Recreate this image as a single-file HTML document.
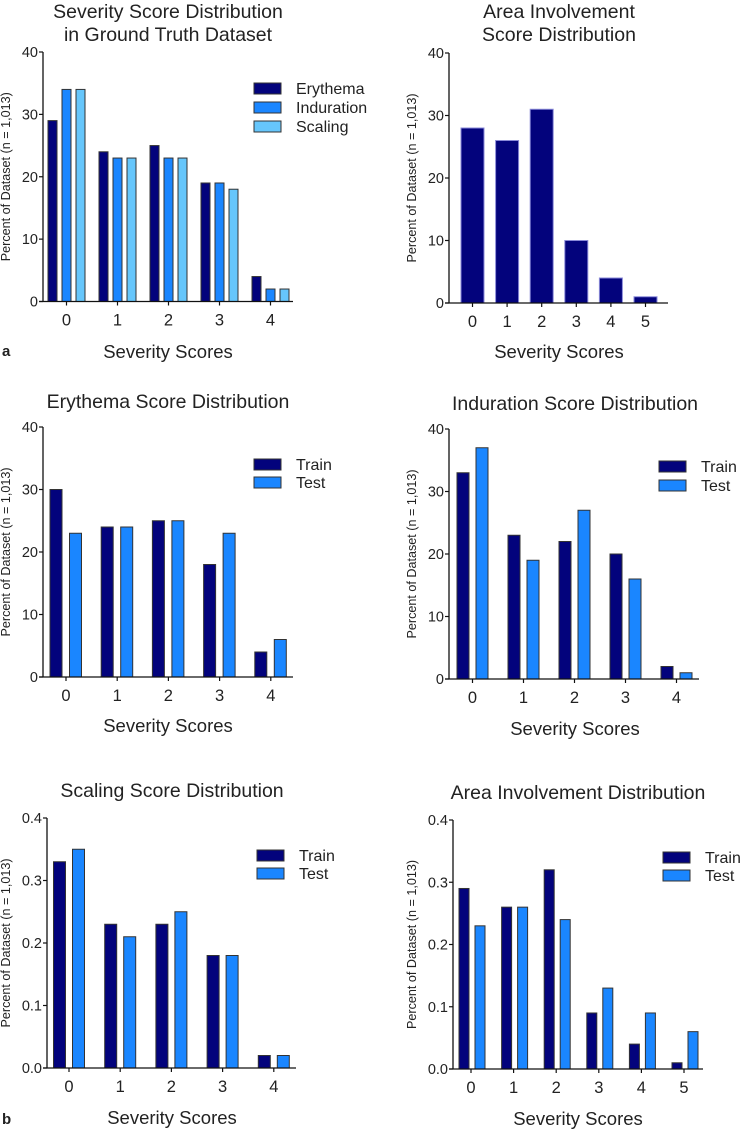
<!DOCTYPE html>
<html><head><meta charset="utf-8"><style>
body{margin:0;background:#fff;}
svg{display:block;font-family:"Liberation Sans",sans-serif;}
text{fill:#222;}
</style></head><body>
<svg id="fig" width="740" height="1130" viewBox="0 0 740 1130"></svg>
<script>
// Panel A: severity in ground truth
const catsA = ["0","1","2","3","4"];
const erythemaA = [29,24,25,19,4];
const indurationA = [34,23,23,19,2];
const scalingA = [34,23,23,18,2];
// Panel B: area involvement
const catsB = ["0","1","2","3","4","5"];
const areaB = [28,26,31,10,4,1];
// Panel C: erythema train/test
const catsC = ["0","1","2","3","4"];
const trainC = [30,24,25,18,4];
const testC = [23,24,25,23,6];
// Panel D: induration
const catsD = ["0","1","2","3","4"];
const trainD = [33,23,22,20,2];
const testD = [37,19,27,16,1];
// Panel E: scaling
const catsE = ["0","1","2","3","4"];
const trainE = [0.33,0.23,0.23,0.18,0.02];
const testE = [0.35,0.21,0.25,0.18,0.02];
// Panel F: area involvement train/test
const catsF = ["0","1","2","3","4","5"];
const trainF = [0.29,0.26,0.32,0.09,0.04,0.01];
const testF = [0.23,0.26,0.24,0.13,0.09,0.06];
const ticksPct = ["0","10","20","30","40"];
const ticksFrac = ["0.0","0.1","0.2","0.3","0.4"];

const NS="http://www.w3.org/2000/svg";
const svg=document.getElementById('fig');
const NAVY="#03037c", MID="#1a86ff", LIGHT="#66c6fb";
function mk(tag,attrs,parent,txt){const e=document.createElementNS(NS,tag);for(const k in attrs)e.setAttribute(k,attrs[k]);if(txt!==undefined)e.textContent=txt;(parent||svg).appendChild(e);return e;}

function panel(o){
  const g=mk('g',{});
  
  
  const y=v=>o.bottom-(v/o.ymax)*(o.bottom-o.top);
  const x=i=>o.x0+i*o.step;
  o.title.forEach((t,k)=>{
    const tt=mk('text',{x:o.tcx,y:o.ty+k*23,'text-anchor':'middle','font-size':'19.5'},g,t);
    
    
  });
  o.series.forEach((s,si)=>{
    s.vals.forEach((v,i)=>{
      const cx=x(i)+s.off;
      const r=mk('rect',{x:cx-o.bw/2,y:y(v),width:o.bw,height:o.bottom-y(v),fill:s.color,stroke:s.stroke||'#333','stroke-width':'1'},g);
      
      
    });
  });
  const ya=mk('line',{x1:o.ax,y1:o.top,x2:o.ax,y2:o.bottom,stroke:'#111','stroke-width':'1.3'},g);
  
  
  const xa=mk('line',{x1:o.ax-4,y1:o.bottom,x2:o.xend,y2:o.bottom,stroke:'#111','stroke-width':'1.3'},g);
  
  
  o.ticks.forEach((t,k)=>{
    const v=o.ymax*k/(o.ticks.length-1);
    mk('line',{x1:o.ax-4,y1:y(v),x2:o.ax,y2:y(v),stroke:'#111','stroke-width':'1.2'},g);
    const tl=mk('text',{x:o.ax-5,y:y(v)+5,'text-anchor':'end','font-size':'14.5'},g,t);
    
    
  });
  o.cats.forEach((c,i)=>{
    mk('line',{x1:x(i),y1:o.bottom,x2:x(i),y2:o.bottom+4,stroke:'#111','stroke-width':'1.2'},g);
    const tl=mk('text',{x:x(i),y:o.bottom+24,'text-anchor':'middle','font-size':'16.5'},g,c);
    
    
  });
  const xt=mk('text',{x:o.tcx,y:o.xty,'text-anchor':'middle','font-size':'18.5'},g,'Severity Scores');
  
  
  const ymid=(o.top+o.bottom)/2;
  const yt=mk('text',{x:o.ylx,y:ymid,'text-anchor':'middle','font-size':'12.6',transform:'rotate(-90 '+o.ylx+' '+ymid+')'},g,'Percent of Dataset (n = 1,013)');
  
  
  if(o.legend){
    o.series.forEach((s,si)=>{
      const ly=o.legend.y+si*o.legend.dy;
      const sw=mk('rect',{x:o.legend.x,y:ly,width:27,height:11,fill:s.color,stroke:'#333','stroke-width':'1'},g);
      
      
      const lt=mk('text',{x:o.legend.x+42,y:ly+11,'font-size':'16'},g,s.label);
      
      
    });
  }
  if(o.letter){
    const l=mk('text',{x:2,y:o.letter,'font-size':'15','font-weight':'bold'},g,o.letterText);
    
    
  }
}

panel({name:'panel-a-ground-truth',title:['Severity Score Distribution','in Ground Truth Dataset'],tcx:168,ty:18,
  ax:43,top:52,bottom:301.5,xend:293,x0:66.5,step:51,ymax:40,ticks:ticksPct,cats:catsA,bw:9,
  series:[{label:'Erythema',vals:erythemaA,color:NAVY,off:-14},{label:'Induration',vals:indurationA,color:MID,off:0},{label:'Scaling',vals:scalingA,color:LIGHT,off:14}],
  xty:358,ylx:10,legend:{x:254,y:83,dy:19},letter:356,letterText:'a'});
panel({name:'panel-b-area-involvement',title:['Area Involvement','Score Distribution'],tcx:559,ty:18,
  ax:449,top:53,bottom:303,xend:668,x0:472.5,step:34.6,ymax:40,ticks:ticksPct,cats:catsB,bw:23,
  series:[{label:'Area',vals:areaB,color:NAVY,off:0,stroke:'#8a8ad8'}],
  xty:358,ylx:416});
panel({name:'panel-c-erythema',title:['Erythema Score Distribution'],tcx:168,ty:408,
  ax:43,top:427,bottom:677,xend:293,x0:66,step:51.2,ymax:40,ticks:ticksPct,cats:catsC,bw:12,
  series:[{label:'Train',vals:trainC,color:NAVY,off:-10},{label:'Test',vals:testC,color:MID,off:9.5}],
  xty:732,ylx:10,legend:{x:254,y:459,dy:18}});
panel({name:'panel-d-induration',title:['Induration Score Distribution'],tcx:575,ty:410,
  ax:449,top:429,bottom:679,xend:699,x0:472.5,step:51,ymax:40,ticks:ticksPct,cats:catsD,bw:12,
  series:[{label:'Train',vals:trainD,color:NAVY,off:-9.5},{label:'Test',vals:testD,color:MID,off:9.5}],
  xty:735,ylx:416,legend:{x:659,y:461,dy:19}});
panel({name:'panel-e-scaling',title:['Scaling Score Distribution'],tcx:172,ty:797,
  ax:47,top:818,bottom:1068,xend:296,x0:69,step:51.2,ymax:0.4,ticks:ticksFrac,cats:catsE,bw:12,
  series:[{label:'Train',vals:trainE,color:NAVY,off:-9.5},{label:'Test',vals:testE,color:MID,off:9.5}],
  xty:1124,ylx:10,legend:{x:257,y:850,dy:18},letter:1124,letterText:'b'});
panel({name:'panel-f-area-involvement',title:['Area Involvement Distribution'],tcx:578,ty:799,
  ax:453,top:820,bottom:1069,xend:703,x0:471,step:42.6,ymax:0.4,ticks:ticksFrac,cats:catsF,bw:10,
  series:[{label:'Train',vals:trainF,color:NAVY,off:-7},{label:'Test',vals:testF,color:MID,off:9}],
  xty:1125,ylx:416,legend:{x:663,y:852,dy:18}});
</script>
</body></html>
